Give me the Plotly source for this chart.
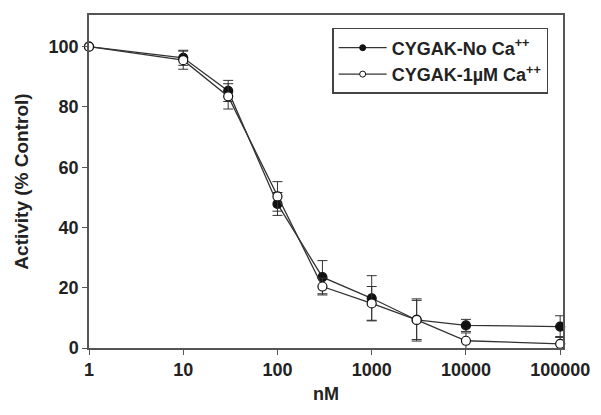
import plotly.graph_objects as go

# concentrations (nM)
conc = [1, 10, 30, 100, 300, 1000, 3000, 10000, 100000]

# CYGAK - no calcium (filled circles)
no_ca = [100, 96.3, 85.3, 47.8, 23.5, 16.5, 9.3, 7.5, 7.1]
no_ca_err = [0, 2.5, 3.5, 3.8, 5.5, 7.5, 6.5, 2.0, 3.6]

# CYGAK - 1 uM calcium (open circles)
ca_1um = [100, 95.5, 83.5, 50.3, 20.4, 14.8, 9.3, 2.4, 1.4]
ca_1um_err = [0, 3.0, 4.2, 4.9, 2.8, 5.6, 7.0, 2.6, 2.4]

x_ticks = [1, 10, 100, 1000, 10000, 100000]
y_ticks = [0, 20, 40, 60, 80, 100]

names = ["CYGAK-No Ca<sup>++</sup>", "CYGAK-1µM Ca<sup>++</sup>"]
fills = ["#111", "white"]

FAMILY = "Liberation Sans, Arial, sans-serif"
font_b = dict(family=FAMILY, size=18, color="#222", weight="bold")

fig = go.Figure()

for y, err, fill in zip([no_ca, ca_1um], [no_ca_err, ca_1um_err], fills):
    fig.add_trace(go.Scatter(
        x=conc, y=y,
        error_y=dict(type="data", array=err, color="#333", thickness=1, width=5),
        mode="lines+markers",
        line=dict(color="#333", width=1.3),
        marker=dict(symbol="circle", size=9, color=fill, line=dict(color="#111", width=1.2)),
        cliponaxis=False,
        showlegend=False
    ))

# legend entries with the smaller markers used in the original key
for name, fill in zip(names, fills):
    fig.add_trace(go.Scatter(
        x=[None], y=[None],
        mode="lines+markers",
        name=name,
        line=dict(color="#333", width=1.3),
        marker=dict(symbol="circle", size=6, color=fill, line=dict(color="#111", width=1)),
    ))

# page body adds an 8px offset, so the figure is 8px smaller than the window
fig.update_layout(
    width=593, height=407,
    margin=dict(l=81, r=38, t=7, b=67),
    paper_bgcolor="white",
    plot_bgcolor="white",
    font=font_b,
    showlegend=True,
    legend=dict(
        x=0.513, y=0.961, xanchor="left", yanchor="top",
        bordercolor="#444", borderwidth=1.5,
        bgcolor="white",
        font=dict(family=FAMILY, size=18, color="#222", weight="bold"),
        tracegroupgap=0,
        itemwidth=48,
    ),
    xaxis=dict(
        type="log",
        range=[0, 5.03],
        tickvals=x_ticks,
        ticktext=[str(v) for v in x_ticks],
        ticks="outside", ticklen=5, tickcolor="#555",
        showline=True, linecolor="#555", linewidth=1.5, mirror=True,
        showgrid=False, zeroline=False,
        automargin=False,
        title=dict(text="nM", standoff=8,
                   font=dict(family=FAMILY, size=18, color="#222", weight="bold")),
        tickfont=font_b,
    ),
    yaxis=dict(
        range=[0, 110.5],
        tickvals=y_ticks,
        ticks="outside", ticklen=5, tickcolor="#555",
        showline=True, linecolor="#555", linewidth=1.5, mirror=True,
        showgrid=False, zeroline=False,
        automargin=False,
        title=dict(text="Activity (% Control)",
                   font=dict(family=FAMILY, size=19, color="#222", weight="bold")),
        tickfont=font_b,
    ),
)

fig.write_html("out.html")
